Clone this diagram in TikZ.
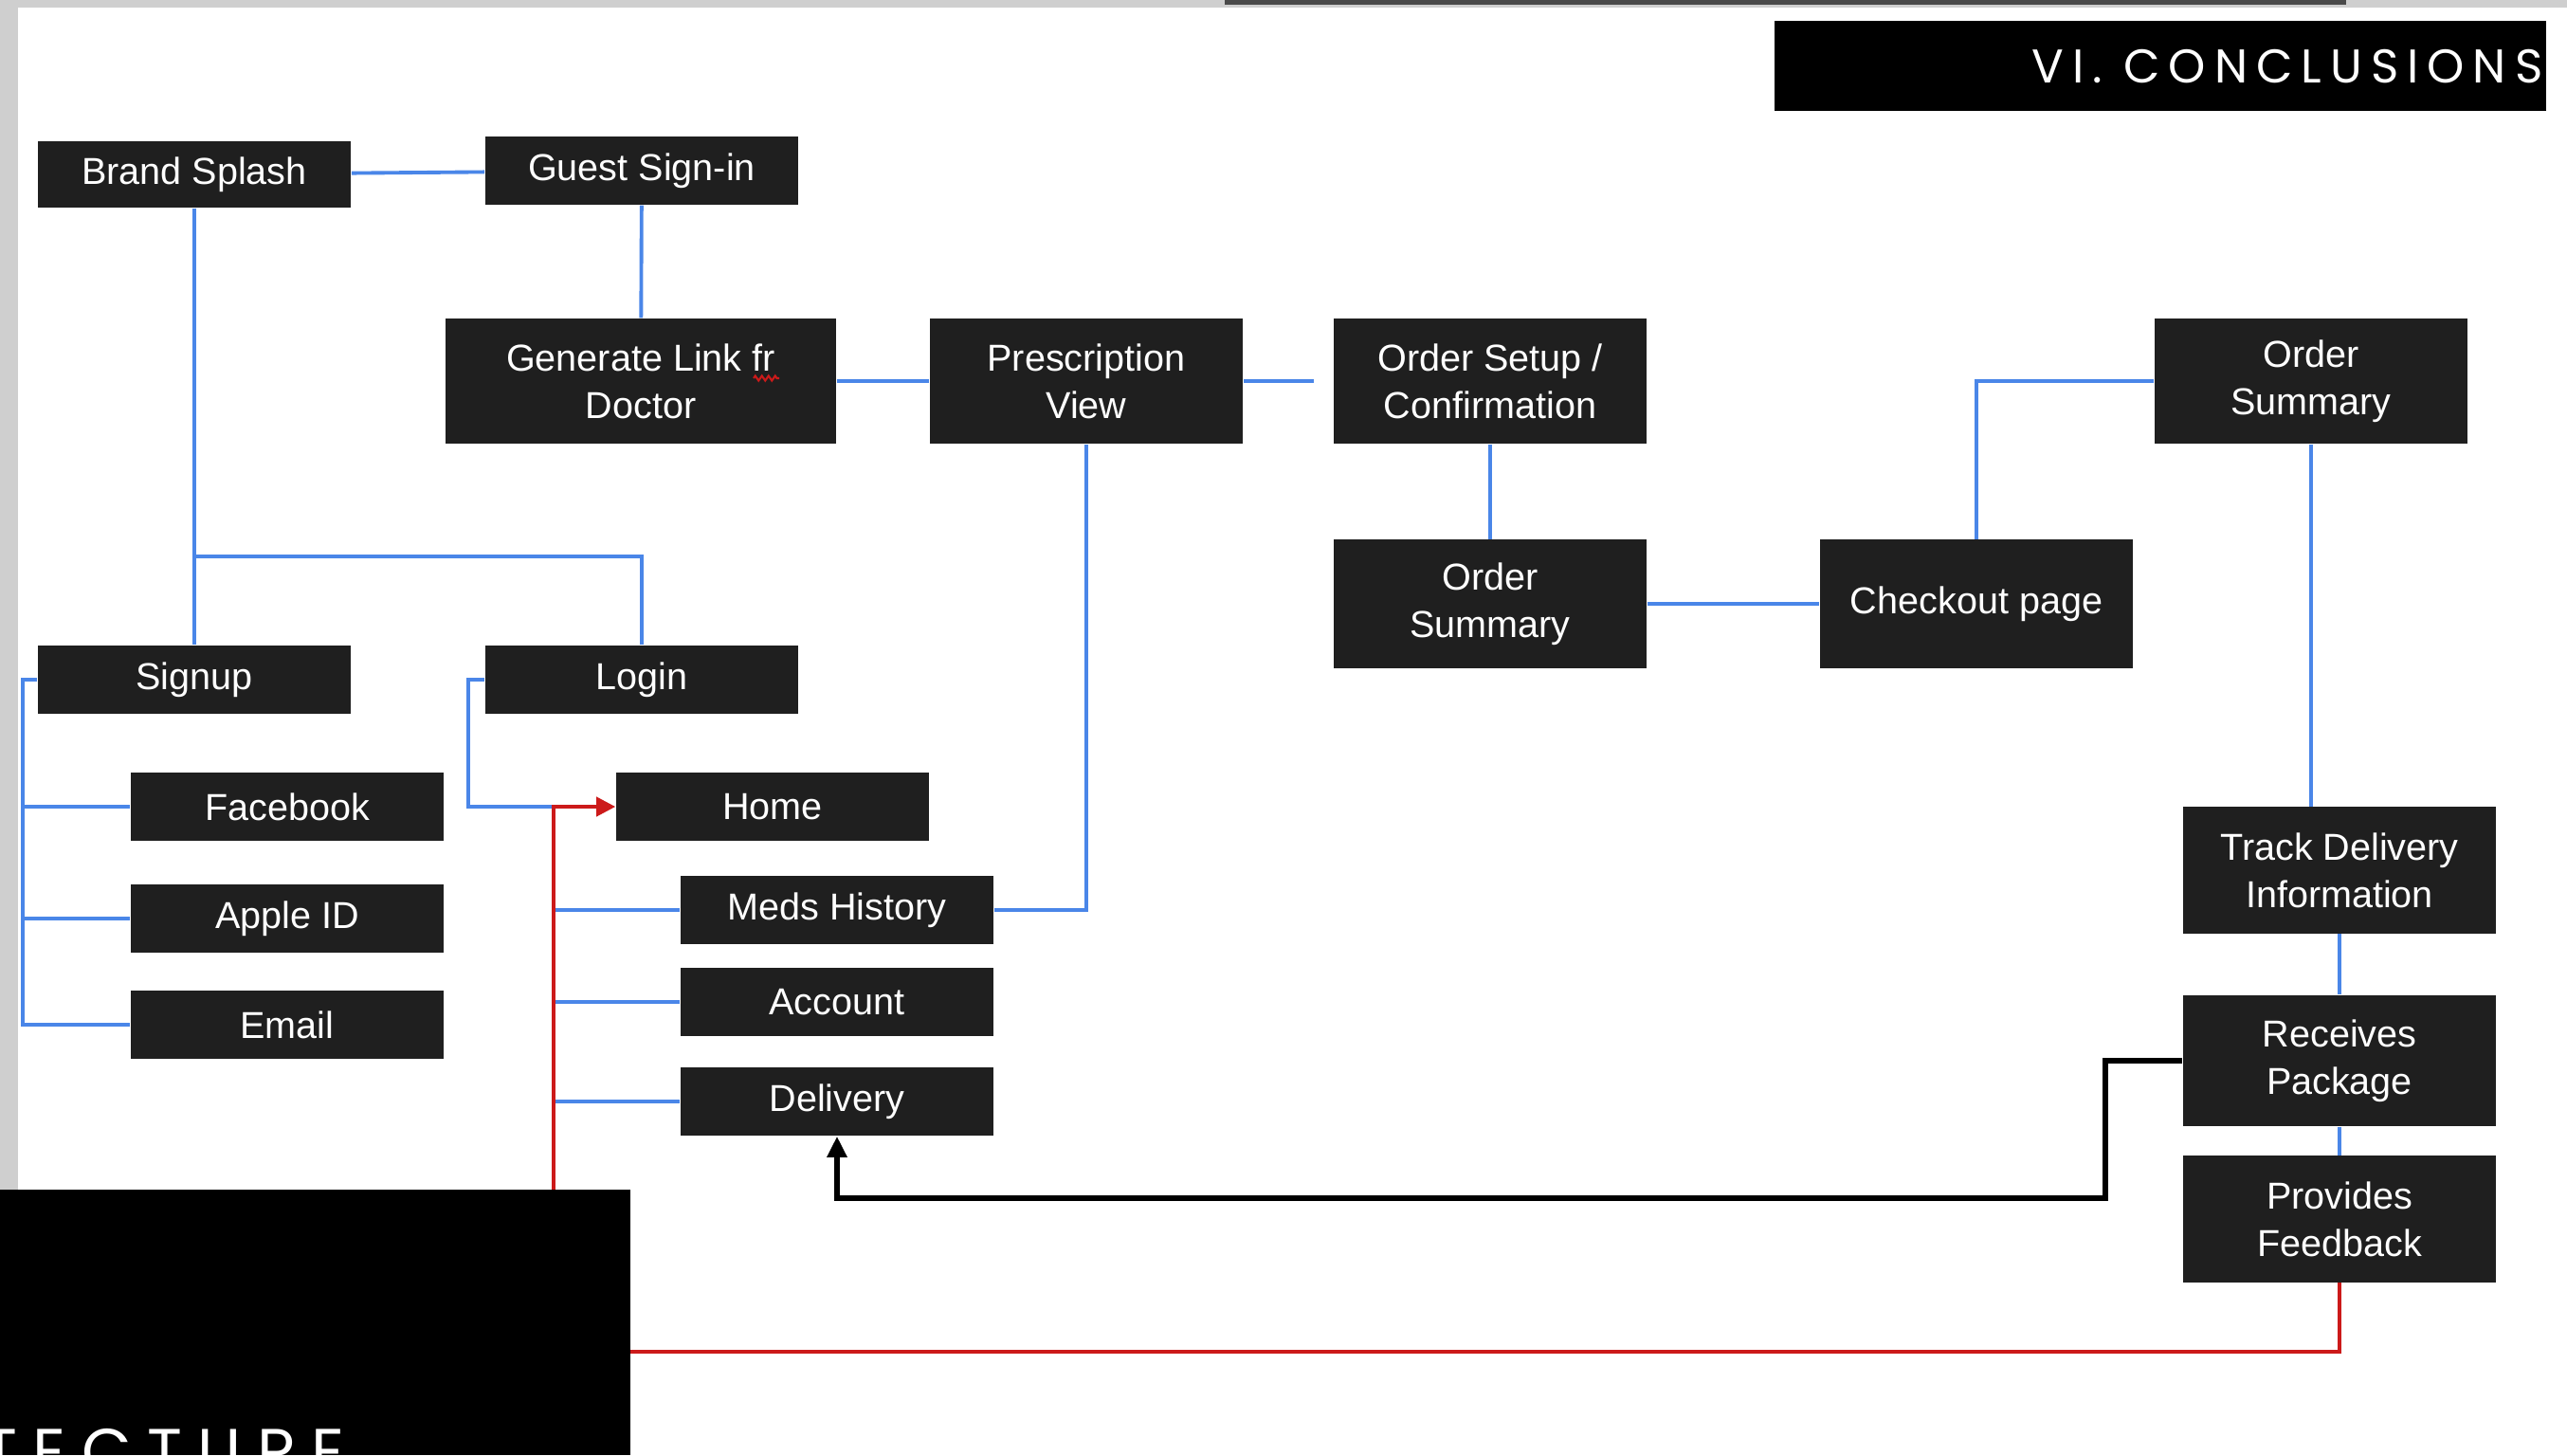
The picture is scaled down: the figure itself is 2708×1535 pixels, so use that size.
\documentclass[tikz,border=0pt]{standalone}
\usepackage{fontspec}
\usepackage{tikz}
\usetikzlibrary{positioning,arrows.meta,decorations.pathmorphing}
\setmainfont{Liberation Sans}
\newfontfamily\titlefont{Poppins}[LetterSpace=18]
\newfontfamily\sectionfont{Poppins}[LetterSpace=24]

\definecolor{boxgray}{HTML}{1F1F1F}
\definecolor{linkblue}{HTML}{4A86E8}
\definecolor{backred}{HTML}{CC1A1A}
\definecolor{stripgray}{HTML}{CFCFCF}
\definecolor{bargray}{HTML}{4A4A4A}

\begin{document}
\begin{tikzpicture}[x=0.01cm, y=-0.01cm,
	screen/.style={rectangle, fill=boxgray, text=white, align=center, inner sep=0pt, minimum width=3.3cm, minimum height=0.72cm, font=\fontsize{11.25}{14.2}\selectfont},
	tall/.style={screen, minimum height=1.32cm},
	link/.style={draw=linkblue, line width=1.1pt},
	backlink/.style={draw=black, line width=1.6pt, -{Triangle[length=2.2mm, width=2mm]}},
	redlink/.style={draw=backred, line width=1.1pt, -{Triangle[length=2mm, width=2mm]}}]
		\useasboundingbox (0,0) rectangle (2708,1535);
		\fill[white] (0,0) rectangle (2708,1535);
		\fill[stripgray] (0,0) rectangle (19,1535);
		\fill[stripgray] (0,0) rectangle (2708,8);
		\fill[bargray] (1292,0) rectangle (2475,5);

		\node (brand) [screen, minimum height=0.70cm] at (205,184) {Brand Splash};
		\node (guest) [screen] at (677,180) {Guest Sign-in};
		\node (genlink) [tall, minimum width=4.12cm] at (676,402) {Generate Link fr\\Doctor};
		\node (presc) [tall] at (1146,402) {Prescription\\View};
		\node (setup) [tall] at (1572,402) {Order Setup /\\Confirmation};
		\node (sumtop) [tall] at (2438,402) {Order\\Summary};
		\node (summid) [tall, minimum height=1.35cm] at (1572,637) {Order\\Summary};
		\node (checkout) [tall, minimum height=1.35cm] at (2085,637) {Checkout page};
		\node (signup) [screen] at (205,717) {Signup};
		\node (login) [screen] at (677,717) {Login};
		\node (facebook) [screen] at (303,851) {Facebook};
		\node (apple) [screen] at (303,969) {Apple ID};
		\node (email) [screen] at (303,1081) {Email};
		\node (home) [screen] at (815,851) {Home};
		\node (meds) [screen] at (883,960) {Meds History};
		\node (account) [screen] at (883,1057) {Account};
		\node (delivery) [screen] at (883,1162) {Delivery};
		\node (track) [tall, minimum height=1.33cm] at (2468,918) {Track Delivery\\Information};
		\node (receives) [tall, minimum height=1.38cm] at (2468,1119) {Receives\\Package};
		\node (feedback) [tall, minimum height=1.33cm] at (2468,1286) {Provides\\Feedback};

		\draw[backred, line width=0.6pt, decorate, decoration={zigzag, segment length=0.07cm, amplitude=0.025cm}] (795,399) -- (822,399);

		\coordinate (fork) at (205,587);
		\coordinate (signturn) at (24,717);
		\coordinate (loginturn) at (494,717);
		\coordinate (hometurn) at (584,851);
		\coordinate (redcorner) at (584,1426);
		\coordinate (blackturn) at (2221,1264);

		\draw[link] (brand) -- (guest);
		\draw[link] (guest) -- (genlink);
		\draw[link] (genlink) -- (presc);
		\draw[link, shorten >=0.2cm] (presc) -- (setup);
		\draw[link] (setup) -- (summid);
		\draw[link] (summid) -- (checkout);
		\draw[link] (checkout.north) |- (sumtop.west);
		\draw[link] (sumtop.south) -- (sumtop.south |- track.north);
		\draw[link] (track) -- (receives);
		\draw[link] (receives) -- (feedback);
		\draw[link] (brand) -- (signup);
		\draw[link] (fork) -| (login.north);
		\draw[link] (signup.west) -- (signturn) |- (email.west);
		\draw[link] (signturn |- facebook.west) -- (facebook.west);
		\draw[link] (signturn |- apple.west) -- (apple.west);
		\draw[link] (login.west) -- (loginturn) |- (hometurn);
		\draw[link] (meds.west) -- (meds.west -| hometurn);
		\draw[link] (account.west) -- (account.west -| hometurn);
		\draw[link] (delivery.west) -- (delivery.west -| hometurn);
		\draw[link] (meds.east) -| (presc.south);

		\draw[redlink] (feedback.south) |- (redcorner) -- (hometurn) -- (home.west);
		\draw[backlink] (receives.west) -| (blackturn) -| (delivery.south);

		\fill[black] (1872,22) rectangle (2686,117);
		\node (title) [anchor=base east, text=white, font=\titlefont\fontsize{14.2}{14.2}\selectfont, inner sep=0pt] at (2683,87) {VI. CONCLUSIONS};
		\fill[black] (0,1255) rectangle (665,1535);
		\begin{scope}
			\clip (0,1255) rectangle (665,1535);
			\node (section) [anchor=base west, text=white, font=\sectionfont\fontsize{19.4}{19.4}\selectfont, inner sep=0pt] at (-19,1555) {TECTURE};
		\end{scope}
\end{tikzpicture}
\end{document}
